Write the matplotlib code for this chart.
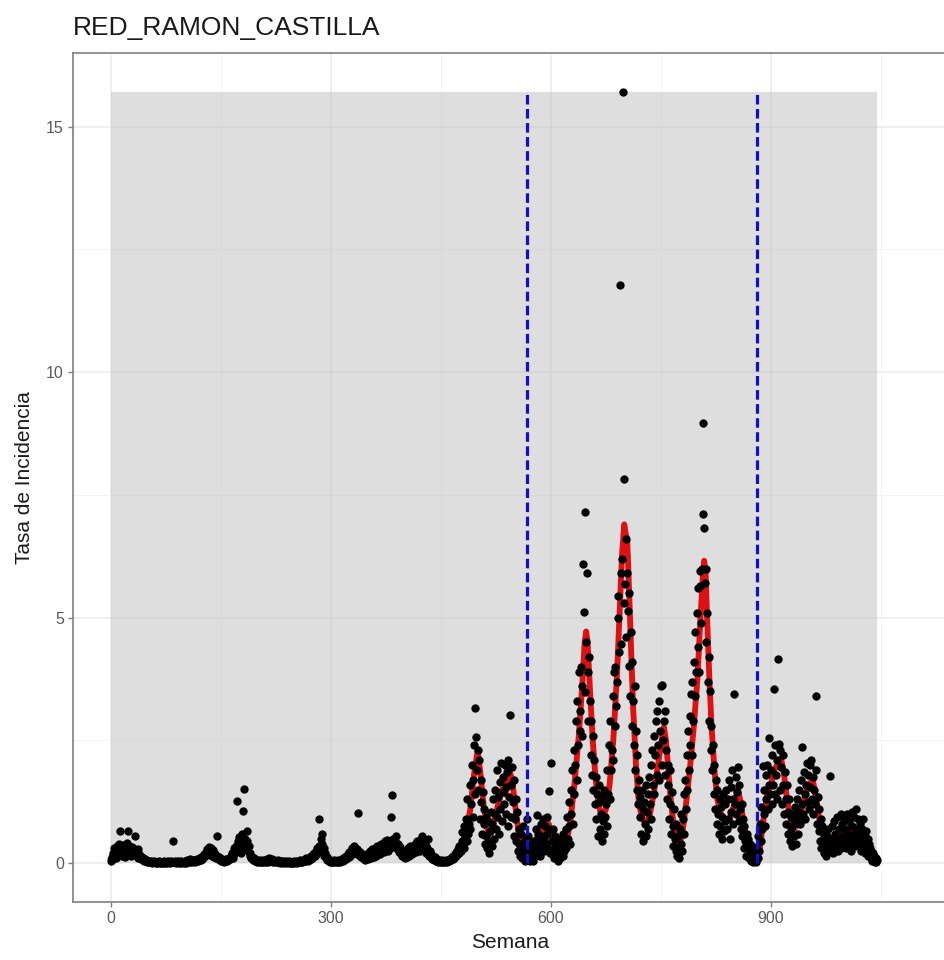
import matplotlib
matplotlib.use("Agg")
import matplotlib.pyplot as plt
import matplotlib.ticker as ticker
import numpy as np

# ── Data ─────────────────────────────────────────────────────────
TITLE = "RED_RAMON_CASTILLA"

# weekly incidence rate, week 0 .. 1045
tasa = [
    0.05, 0.12, 0.2, 0.08, 0.3, 0.15, 0.25, 0.1, 0.35, 0.22, 0.18, 0.4, 0.66, 0.28, 0.32, 0.15, 0.38, 0.2, 0.3, 0.12,
    0.25, 0.42, 0.3, 0.66, 0.35, 0.2, 0.28, 0.15, 0.32, 0.22, 0.3, 0.18, 0.25, 0.55, 0.2, 0.15, 0.28, 0.1, 0.18, 0.12,
    0.15, 0.08, 0.12, 0.06, 0.1, 0.05, 0.08, 0.04, 0.06, 0.03, 0.05, 0.02, 0.04, 0.03, 0.02, 0.05, 0.01, 0.03, 0.02, 0.04,
    0.02, 0.01, 0.03, 0.0, 0.02, 0.04, 0.01, 0.02, 0.0, 0.03, 0.02, 0.01, 0.04, 0.02, 0.0, 0.03, 0.01, 0.02, 0.05, 0.02,
    0.03, 0.01, 0.04, 0.02, 0.45, 0.03, 0.02, 0.05, 0.01, 0.03, 0.02, 0.04, 0.0, 0.02, 0.03, 0.01, 0.05, 0.02, 0.03, 0.01,
    0.02, 0.04, 0.01, 0.03, 0.06, 0.02, 0.05, 0.03, 0.08, 0.04, 0.06, 0.02, 0.05, 0.07, 0.03, 0.06, 0.04, 0.09, 0.05, 0.08,
    0.06, 0.1, 0.07, 0.12, 0.09, 0.15, 0.11, 0.18, 0.14, 0.22, 0.17, 0.28, 0.2, 0.32, 0.25, 0.18, 0.3, 0.22, 0.15, 0.26,
    0.2, 0.12, 0.18, 0.1, 0.15, 0.55, 0.08, 0.12, 0.06, 0.1, 0.05, 0.08, 0.04, 0.07, 0.03, 0.06, 0.05, 0.09, 0.04, 0.08,
    0.06, 0.1, 0.08, 0.15, 0.12, 0.2, 0.1, 0.3, 0.18, 0.25, 0.35, 0.22, 1.27, 0.45, 0.54, 0.3, 0.4, 0.2, 0.35, 0.6,
    1.06, 1.52, 0.5, 0.4, 0.3, 0.65, 0.45, 0.25, 0.35, 0.15, 0.2, 0.1, 0.12, 0.08, 0.06, 0.1, 0.04, 0.07, 0.05, 0.03,
    0.06, 0.04, 0.02, 0.05, 0.03, 0.07, 0.02, 0.04, 0.06, 0.03, 0.05, 0.02, 0.04, 0.08, 0.03, 0.06, 0.1, 0.04, 0.07, 0.05,
    0.08, 0.03, 0.06, 0.04, 0.02, 0.05, 0.03, 0.07, 0.02, 0.04, 0.01, 0.03, 0.05, 0.02, 0.04, 0.01, 0.03, 0.02, 0.04, 0.01,
    0.02, 0.03, 0.01, 0.04, 0.02, 0.0, 0.03, 0.01, 0.02, 0.04, 0.01, 0.03, 0.02, 0.05, 0.01, 0.02, 0.04, 0.03, 0.06, 0.02,
    0.05, 0.03, 0.07, 0.04, 0.08, 0.05, 0.1, 0.06, 0.04, 0.09, 0.07, 0.12, 0.08, 0.15, 0.1, 0.18, 0.12, 0.2, 0.14, 0.25,
    0.18, 0.3, 0.22, 0.91, 0.35, 0.28, 0.5, 0.4, 0.59, 0.25, 0.3, 0.15, 0.2, 0.1, 0.12, 0.06, 0.08, 0.04, 0.06, 0.03,
    0.05, 0.02, 0.04, 0.03, 0.06, 0.02, 0.05, 0.04, 0.03, 0.07, 0.02, 0.05, 0.03, 0.06, 0.04, 0.08, 0.05, 0.1, 0.07, 0.12,
    0.08, 0.15, 0.1, 0.18, 0.12, 0.22, 0.15, 0.25, 0.18, 0.3, 0.2, 0.35, 0.25, 0.3, 0.22, 0.28, 0.18, 1.02, 0.2, 0.15,
    0.22, 0.12, 0.18, 0.1, 0.15, 0.08, 0.12, 0.06, 0.1, 0.15, 0.08, 0.2, 0.12, 0.25, 0.15, 0.1, 0.28, 0.18, 0.12, 0.22,
    0.3, 0.15, 0.25, 0.35, 0.2, 0.32, 0.28, 0.18, 0.4, 0.25, 0.35, 0.3, 0.22, 0.45, 0.28, 0.38, 0.32, 0.48, 0.25, 0.4,
    0.35, 0.3, 0.95, 1.38, 0.42, 0.5, 0.38, 0.45, 0.3, 0.55, 0.35, 0.28, 0.4, 0.22, 0.32, 0.18, 0.25, 0.15, 0.22, 0.12,
    0.2, 0.1, 0.18, 0.25, 0.12, 0.3, 0.15, 0.22, 0.35, 0.2, 0.28, 0.18, 0.32, 0.25, 0.4, 0.3, 0.22, 0.45, 0.35, 0.28,
    0.4, 0.32, 0.25, 0.5, 0.56, 0.38, 0.3, 0.42, 0.25, 0.35, 0.2, 0.3, 0.5, 0.22, 0.15, 0.25, 0.12, 0.18, 0.08, 0.15,
    0.1, 0.06, 0.12, 0.04, 0.08, 0.05, 0.03, 0.07, 0.02, 0.05, 0.04, 0.02, 0.06, 0.03, 0.05, 0.02, 0.04, 0.06, 0.03, 0.05,
    0.07, 0.04, 0.08, 0.06, 0.1, 0.12, 0.08, 0.15, 0.1, 0.18, 0.14, 0.22, 0.18, 0.28, 0.2, 0.35, 0.3, 0.25, 0.45, 0.64,
    0.4, 0.75, 0.3, 0.55, 0.9, 0.45, 1.3, 0.6, 0.8, 1.6, 0.7, 1.2, 2.0, 0.95, 1.7, 2.4, 3.16, 1.4, 2.57, 1.9,
    2.3, 1.5, 2.1, 0.9, 1.7, 1.25, 0.6, 1.45, 0.8, 1.1, 0.4, 0.95, 0.55, 0.3, 0.85, 0.45, 0.2, 0.65, 1.05, 0.35,
    0.8, 1.3, 0.5, 1.0, 1.5, 0.7, 1.9, 0.95, 1.35, 0.6, 1.65, 1.1, 2.05, 0.85, 1.45, 1.75, 1.2, 2.0, 1.0, 1.55,
    1.85, 0.75, 2.1, 1.35, 3.02, 1.6, 0.95, 1.95, 1.25, 0.55, 1.7, 0.9, 1.3, 0.45, 1.05, 0.25, 0.7, 0.4, 0.15, 0.6,
    0.3, 0.1, 0.75, 0.2, 0.45, 0.05, 0.35, 0.9, 0.15, 0.55, 0.25, 0.05, 0.4, 0.1, 0.3, 0.2, 0.05, 0.45, 0.15, 0.7,
    0.35, 0.98, 0.2, 0.6, 0.45, 0.15, 0.8, 0.55, 0.3, 0.9, 0.5, 0.25, 0.75, 0.4, 0.6, 0.95, 0.3, 1.47, 0.7, 0.2,
    2.04, 0.45, 0.25, 0.7, 0.1, 0.55, 0.3, 0.15, 0.45, 0.05, 0.35, 0.2, 0.5, 0.1, 0.3, 0.45, 0.15, 0.6, 0.25, 0.4,
    0.7, 0.3, 0.95, 0.5, 1.25, 0.75, 0.4, 1.5, 1.0, 1.9, 0.8, 2.3, 1.4, 2.0, 2.9, 1.7, 3.3, 2.4, 3.9, 2.7,
    3.1, 4.0, 2.6, 3.6, 6.1, 5.12, 7.16, 3.48, 4.5, 5.9, 3.9, 2.9, 4.2, 3.3, 2.2, 2.9, 1.8, 2.6, 1.5, 2.1,
    1.2, 1.75, 0.9, 1.4, 0.55, 1.25, 1.6, 0.7, 1.0, 0.45, 1.35, 0.85, 0.6, 1.5, 0.95, 1.2, 0.75, 1.9, 1.4, 2.4,
    1.3, 2.9, 1.9, 2.3, 3.4, 2.1, 3.9, 2.8, 4.0, 3.2, 3.7, 5.0, 5.45, 4.3, 11.77, 5.9, 4.47, 6.2, 15.7, 5.3,
    7.83, 5.69, 6.6, 4.6, 5.9, 5.14, 4.02, 5.5, 3.4, 4.7, 2.8, 4.1, 3.3, 2.4, 3.6, 1.9, 2.7, 1.5, 2.2, 1.2,
    1.7, 0.95, 1.35, 0.6, 1.5, 1.1, 0.45, 1.25, 0.8, 1.6, 0.55, 1.05, 1.4, 0.7, 1.75, 1.2, 2.0, 0.9, 2.3, 1.6,
    2.6, 1.4, 2.2, 2.9, 1.8, 3.1, 2.4, 1.7, 3.3, 2.7, 3.6, 2.0, 3.62, 2.5, 2.9, 3.1, 1.8, 2.3, 1.3, 2.0,
    1.6, 0.9, 1.9, 1.2, 0.6, 1.45, 0.75, 0.35, 1.1, 0.5, 0.25, 0.8, 0.15, 0.55, 0.3, 0.1, 0.7, 0.4, 1.0, 0.25,
    0.9, 1.4, 0.6, 1.7, 1.1, 2.2, 1.5, 2.7, 1.9, 3.0, 2.4, 3.45, 2.2, 3.7, 2.9, 4.1, 3.4, 4.7, 3.9, 5.1,
    4.4, 5.6, 3.9, 5.65, 5.96, 4.9, 6.0, 7.12, 8.97, 6.82, 5.7, 6.0, 4.5, 5.1, 3.7, 4.2, 2.9, 3.5, 2.3, 2.8,
    1.9, 2.4, 1.4, 2.0, 1.1, 1.7, 0.8, 1.5, 1.0, 0.6, 1.3, 0.75, 1.15, 0.5, 0.95, 1.4, 0.65, 1.2, 0.85, 1.5,
    0.7, 1.3, 0.9, 1.7, 0.5, 1.55, 1.05, 1.9, 1.3, 0.8, 3.45, 1.2, 1.75, 1.0, 1.45, 1.95, 0.85, 1.6, 1.1, 0.7,
    1.2, 0.55, 0.9, 0.3, 0.75, 0.45, 0.15, 0.6, 0.3, 0.5, 0.1, 0.4, 0.2, 0.05, 0.35, 0.15, 0.02, 0.25, 0.08, 0.12,
    0.02, 0.3, 0.1, 0.55, 0.25, 0.8, 0.45, 1.15, 0.7, 1.98, 1.0, 1.5, 0.75, 1.8, 1.3, 2.0, 1.1, 1.6, 2.56, 1.4,
    1.9, 1.2, 2.2, 1.6, 3.54, 1.4, 2.4, 1.8, 1.3, 2.1, 4.15, 2.43, 1.5, 2.3, 1.95, 1.2, 2.2, 1.6, 1.0, 1.85,
    1.3, 0.8, 1.6, 1.05, 0.6, 1.3, 0.45, 0.95, 0.7, 0.35, 1.0, 0.55, 0.8, 1.15, 0.4, 0.9, 1.3, 0.6, 1.05, 1.5,
    0.8, 1.7, 1.2, 2.37, 1.0, 1.85, 1.4, 0.9, 1.6, 2.05, 1.25, 1.8, 1.1, 2.0, 1.55, 2.1, 1.3, 1.75, 1.0, 1.5,
    1.2, 1.9, 3.41, 0.8, 1.35, 0.65, 1.1, 0.45, 0.9, 0.3, 0.75, 0.5, 0.2, 0.6, 0.35, 0.15, 0.55, 0.3, 0.7, 0.25,
    0.45, 1.77, 0.3, 0.75, 0.5, 0.2, 0.85, 0.4, 0.6, 0.3, 0.95, 0.5, 0.25, 0.7, 0.45, 1.0, 0.3, 0.8, 0.55, 0.35,
    0.9, 0.5, 0.7, 0.3, 1.0, 0.6, 0.4, 0.85, 0.55, 0.25, 0.75, 1.05, 0.45, 0.6, 0.95, 0.35, 1.1, 0.7, 0.5, 0.9,
    0.4, 0.8, 0.6, 0.25, 0.7, 0.45, 0.9, 0.3, 0.55, 0.2, 0.65, 0.35, 0.5, 0.15, 0.4, 0.3, 0.1, 0.25, 0.05, 0.2,
    0.05, 0.15, 0.03, 0.1, 0.02, 0.06,
]
semana = np.arange(len(tasa))

# fitted curve (red), knots
ajuste_semana = [
    0, 5, 12, 20, 28, 35, 45, 55, 80, 100, 115, 130, 138, 145, 155, 165, 172, 178, 183, 188,
    195, 220, 250, 265, 278, 285, 290, 298, 315, 330, 337, 345, 355, 370, 380, 386, 392, 400, 415, 425,
    432, 440, 455, 468, 478, 485, 490, 495, 500, 504, 508, 513, 518, 523, 528, 533, 538, 543, 547, 551,
    556, 561, 566, 569, 574, 580, 586, 592, 597, 602, 608, 614, 620, 626, 632, 638, 643, 646, 648, 650,
    653, 657, 661, 665, 670, 675, 680, 685, 690, 694, 697, 700, 702, 704, 706, 709, 712, 716, 720, 725,
    730, 735, 740, 745, 750, 754, 757, 760, 764, 768, 772, 776, 780, 785, 790, 795, 800, 804, 807, 809,
    811, 813, 816, 819, 823, 827, 832, 838, 844, 850, 855, 858, 862, 867, 872, 877, 881, 885, 890, 895,
    900, 905, 910, 914, 918, 922, 927, 932, 937, 942, 947, 952, 957, 961, 966, 971, 976, 982, 990, 1000,
    1010, 1018, 1025, 1032, 1038, 1045,
]
ajuste_tasa = [
    0.1, 0.2, 0.28, 0.3, 0.25, 0.2, 0.08, 0.03, 0.02, 0.03, 0.06, 0.18, 0.22, 0.12, 0.05, 0.12, 0.35, 0.55, 0.5, 0.2,
    0.06, 0.04, 0.02, 0.06, 0.18, 0.3, 0.25, 0.05, 0.06, 0.2, 0.25, 0.12, 0.15, 0.3, 0.38, 0.45, 0.35, 0.2, 0.3, 0.4,
    0.3, 0.1, 0.04, 0.1, 0.3, 0.7, 1.1, 1.8, 2.3, 1.8, 1.2, 0.7, 0.6, 0.9, 1.2, 1.5, 1.4, 1.9, 1.7, 1.2,
    0.6, 0.3, 0.1, 0.05, 0.15, 0.5, 0.6, 0.7, 0.8, 0.5, 0.3, 0.2, 0.35, 0.8, 1.6, 2.6, 3.7, 4.5, 4.72, 4.5,
    3.6, 2.5, 1.7, 1.2, 0.9, 1.1, 1.6, 2.5, 3.8, 5.2, 6.3, 6.9, 6.7, 6.6, 5.8, 4.5, 3.2, 2.0, 1.2, 0.9,
    0.8, 1.0, 1.4, 1.9, 2.4, 2.77, 2.5, 1.9, 1.2, 0.7, 0.45, 0.4, 0.7, 1.3, 2.0, 2.8, 3.8, 5.0, 5.8, 6.16,
    5.9, 5.0, 3.8, 2.8, 1.9, 1.3, 1.0, 0.9, 0.9, 1.2, 1.5, 1.3, 0.9, 0.5, 0.25, 0.08, 0.02, 0.3, 0.9, 1.4,
    1.6, 1.9, 2.05, 2.13, 1.8, 1.3, 0.9, 0.7, 0.8, 1.1, 1.4, 1.6, 1.7, 1.4, 0.9, 0.6, 0.45, 0.4, 0.5, 0.6,
    0.65, 0.7, 0.55, 0.35, 0.2, 0.05,
]

# change points (blue dashed)
cortes = [567, 881]

# ── Styling ──────────────────────────────────────────────────────
FONT = "Liberation Sans"
plt.rcParams.update({
    "font.family": FONT,
    "axes.edgecolor": "#7F7F7F",
    "xtick.color": "#7F7F7F",
    "ytick.color": "#7F7F7F",
})

W, H = 945, 960
fig = plt.figure(figsize=(W / 100, H / 100), dpi=100)
fig.patch.set_facecolor("white")

# panel in pixel coords: left 73, top 53, bottom 902, right beyond the image
left, top, bottom, right = 73, 53, 902, 960
ax = fig.add_axes([left / W, 1 - bottom / H, (right - left) / W, (bottom - top) / H])

ax.set_xlim(-52, 1158)
ax.set_ylim(-0.79, 16.5)

ax.xaxis.set_major_locator(ticker.FixedLocator([0, 300, 600, 900]))
ax.xaxis.set_minor_locator(ticker.FixedLocator([150, 450, 750, 1050]))
ax.yaxis.set_major_locator(ticker.FixedLocator([0, 5, 10, 15]))
ax.yaxis.set_minor_locator(ticker.FixedLocator([2.5, 7.5, 12.5]))
ax.grid(which="major", color="#EBEBEB", linewidth=1.1)
ax.grid(which="minor", color="#F3F3F3", linewidth=0.6)
ax.set_axisbelow(True)
ax.tick_params(which="major", length=3.5, width=1.0, labelsize=11.5,
               labelcolor="#5A5A5A", pad=3)
ax.tick_params(which="minor", length=0)
for s in ax.spines.values():
    s.set_linewidth(1.2)

# shaded data range
ymax = max(tasa)
ax.fill_between([semana[0], semana[-1]], 0, ymax, color="#BEBEBE", alpha=0.5,
                linewidth=0, zorder=1)

ax.plot(ajuste_semana, ajuste_tasa, color="#DD1111", linewidth=4.2,
        solid_joinstyle="round", zorder=2)
ax.scatter(semana, tasa, s=36, color="black", linewidths=0, zorder=3)
ax.vlines(cortes, 0, ymax, colors="#1010C8", linewidth=2.3,
          linestyles=(0, (3, 1.4)), zorder=4)

fig.text(left / W, 1 - 35 / H, TITLE, fontsize=19, color="#1A1A1A",
         ha="left", va="baseline")
fig.text(510 / W, 1 - 942 / H, "Semana", fontsize=15,
         color="#1A1A1A", ha="center", va="center")
fig.text(25 / W, 1 - (top + bottom) / 2 / H, "Tasa de Incidencia", fontsize=15,
         color="#1A1A1A", ha="center", va="center", rotation=90)

fig.savefig("out.png", dpi=100)
plt.close(fig)
